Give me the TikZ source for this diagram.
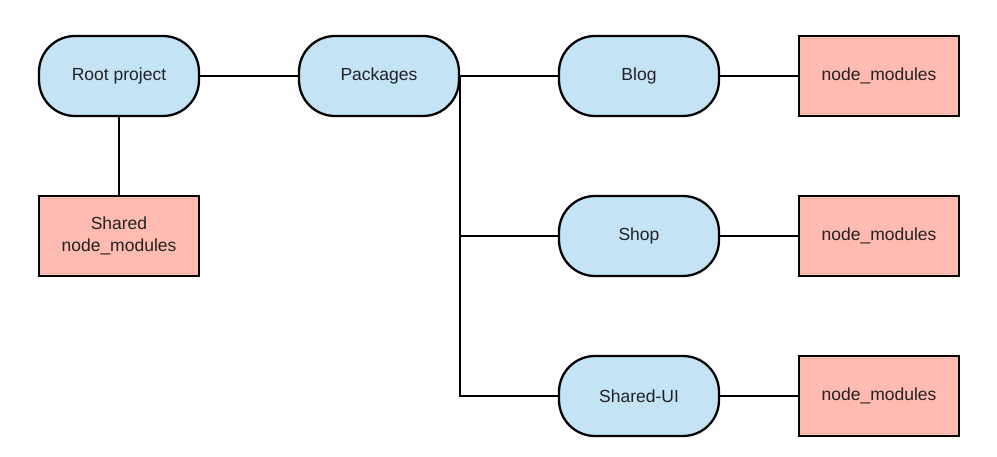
\documentclass[tikz,border=0pt]{standalone}
\usepackage{fontspec}
\setmainfont{Liberation Sans}
\definecolor{pblue}{HTML}{C4E3F5}
\definecolor{ppink}{HTML}{FFBBB1}
\definecolor{ptext}{HTML}{222222}
\begin{document}
\begin{tikzpicture}[x=1pt,y=-1pt,
  every node/.style={font=\fontsize{17.5}{21.5}\selectfont, text=ptext, align=center, line width=2.3pt, draw=black},
  pill/.style={fill=pblue, rounded corners=36pt, minimum width=160pt, minimum height=80pt},
  modbox/.style={fill=ppink, minimum width=160pt, minimum height=80pt},
  conn/.style={line width=2.3pt}]
\useasboundingbox (0,0) rectangle (997,457);
\node[pill] (root) at (119,76) {Root project};
\node[pill] (pkg) at (379,76) {Packages};
\node[pill] (blog) at (639,76) {Blog};
\node[modbox] (nm1) at (879,76) {node\_modules};
\node[modbox] (shared) at (119,236) {Shared\\node\_modules};
\node[pill] (shop) at (639,236) {Shop};
\node[modbox] (nm2) at (879,236) {node\_modules};
\node[pill] (sui) at (639,396) {Shared-UI};
\node[modbox] (nm3) at (879,396) {node\_modules};
\draw[conn] (root) -- (pkg);
\draw[conn] (root) -- (shared);
\draw[conn] (pkg) -- (blog);
\draw[conn] (blog) -- (nm1);
\draw[conn] (shop) -- (nm2);
\draw[conn] (sui) -- (nm3);
\draw[conn] (pkg.east) |- (sui.west);
\draw[conn] (pkg.east |- shop.west) -- (shop.west);
\end{tikzpicture}
\end{document}
